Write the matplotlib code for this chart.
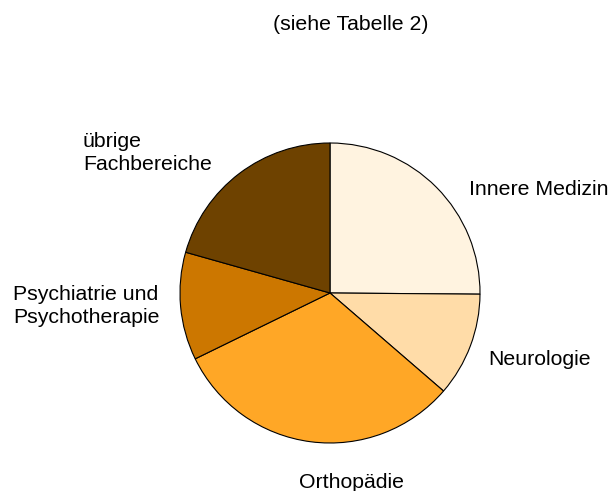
import matplotlib
matplotlib.use("Agg")
import matplotlib.pyplot as plt

categories = ["Innere Medizin", "Neurologie", "Orthopädie",
              "Psychiatrie und\nPsychotherapie", "übrige\nFachbereiche"]
values = [25.1, 11.2, 31.4, 11.6, 20.6]
colors = ["#FFF3E0", "#FFDCA8", "#FFA726", "#CC7700", "#6E4200"]
title = "(siehe Tabelle 2)"

plt.rcParams['font.family'] = ['Liberation Sans', 'DejaVu Sans']
W, H = 609, 491
fig = plt.figure(figsize=(W / 100, H / 100), dpi=100)
ax = fig.add_axes([0, 0, 1, 1])
cx, cy, R = 330, 293, 150

ax.pie(values, colors=colors, startangle=90, counterclock=False, radius=1,
       wedgeprops=dict(edgecolor="black", linewidth=0.8))
ax.set_xlim(-cx / R, (W - cx) / R)
ax.set_ylim(-(H - cy) / R, cy / R)
ax.set_aspect("equal")
ax.axis("off")

fs = 15.3
def px(x, y):
    return (x - cx) / R, (cy - y) / R

label_pos = [
    (469, 195, "left"),
    (488, 365, "left"),
    (351.5, 488, "center"),
    (13, 323, "left"),
    (83, 170, "left"),
]
for lab, (x, y, ha) in zip(categories, label_pos):
    tx, ty = px(x, y)
    ax.text(tx, ty, lab, ha=ha, va="baseline", fontsize=fs, linespacing=1.25,
            multialignment="left")

tx, ty = px(351, 30)
ax.text(tx, ty, title, ha="center", va="baseline", fontsize=fs)

fig.savefig("out.png", dpi=100)
